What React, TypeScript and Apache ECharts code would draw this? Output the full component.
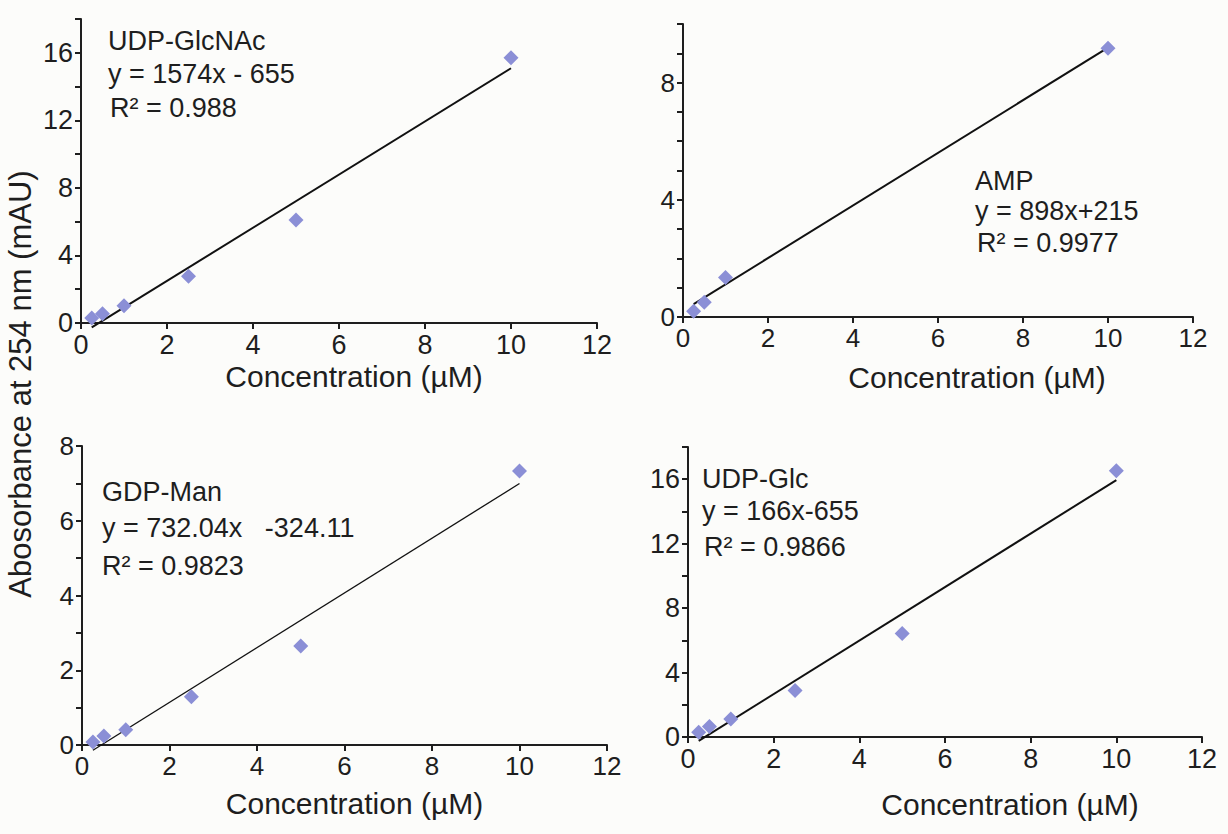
import React, { useEffect, useRef } from 'react';
import * as echarts from 'echarts';

// ---- data ----
const concentrations = [0.25, 0.5, 1, 2.5, 5, 10];
const ampConcentrations = [0.25, 0.5, 1, 10];
const udpGlcNAc = [0.29, 0.55, 1.02, 2.77, 6.1, 15.7];
const amp = [0.2, 0.5, 1.35, 9.17];
const gdpMan = [0.08, 0.24, 0.41, 1.29, 2.65, 7.33];
const udpGlc = [0.29, 0.65, 1.12, 2.89, 6.43, 16.52];

const compoundNames = ['UDP-GlcNAc', 'AMP', 'GDP-Man', 'UDP-Glc'];
const equations = ['y = 1574x - 655', 'y = 898x+215', 'y = 732.04x   -324.11', 'y = 166x-655'];
const rSquared = ['R\u00B2 = 0.988', 'R\u00B2 = 0.9977', 'R\u00B2 = 0.9823', 'R\u00B2 = 0.9866'];
// trend line coefficients (mAU per µM, mAU)
const slopes = [1.574, 0.898, 0.73204, 1.66];
const intercepts = [-0.655, 0.215, -0.32411, -0.655];

const xMax = 12;
const xInterval = 2;
const yMax = [18, 10, 8, 18];
const yInterval = [2, 1, 1, 2];
const yLabelEvery = [4, 4, 2, 4];

const xTitle = 'Concentration (\u00B5M)';
const yTitle = 'Abosorbance at 254 nm (mAU)';

const FONT = '"Liberation Sans", Arial, Helvetica, sans-serif';
const INK = '#1e1e1e';
const MARKER = '#8b8fd6';

export default function App() {
  const ref = useRef<HTMLDivElement>(null);

  useEffect(() => {
    if (!ref.current) return;
    const chart = echarts.init(ref.current, null, { renderer: 'svg' });

    const xs = [concentrations, ampConcentrations, concentrations, concentrations];
    const ys = [udpGlcNAc, amp, gdpMan, udpGlc];

    const grids = [
      { left: 81, right: 631, top: 19, bottom: 511 },
      { left: 683, right: 35, top: 24, bottom: 517 },
      { left: 82, right: 621, top: 446, bottom: 89 },
      { left: 688, right: 26, top: 447, bottom: 97 },
    ];
    const tickFont = [27, 26, 26, 27];
    const nameGap = [38, 45, 43, 52];
    const namePadLeft = [30, 78, 20, 130];
    const lineWidths = [2, 2, 1.3, 2];

    const axisLine = { lineStyle: { color: INK, width: 2 } };
    const axisTick = { show: true, inside: false, length: 6, lineStyle: { color: INK, width: 2 } };

    const xAxis = grids.map((_, i) => ({
      type: 'value',
      gridIndex: i,
      min: 0,
      max: xMax,
      interval: xInterval,
      axisLine,
      axisTick,
      splitLine: { show: false },
      axisLabel: { color: INK, fontSize: tickFont[i], fontFamily: FONT, margin: 8, showMaxLabel: true, showMinLabel: true },
      name: xTitle,
      nameLocation: 'middle',
      nameGap: nameGap[i],
      nameTextStyle: { color: INK, fontSize: 30, fontFamily: FONT, padding: [0, 0, 0, namePadLeft[i]] },
    }));

    const yAxis = grids.map((_, i) => ({
      type: 'value',
      gridIndex: i,
      min: 0,
      max: yMax[i],
      interval: yInterval[i],
      axisLine,
      axisTick,
      splitLine: { show: false },
      axisLabel: {
        color: INK,
        fontSize: tickFont[i],
        fontFamily: FONT,
        margin: 8,
        formatter: (v: number) => (v % yLabelEvery[i] === 0 ? String(v) : ''),
      },
    }));

    const series: any[] = [];
    grids.forEach((_, i) => {
      const x0 = xs[i][0];
      const x1 = xs[i][xs[i].length - 1];
      series.push({
        type: 'line',
        xAxisIndex: i,
        yAxisIndex: i,
        data: [
          [x0, slopes[i] * x0 + intercepts[i]],
          [x1, slopes[i] * x1 + intercepts[i]],
        ],
        showSymbol: false,
        symbol: 'none',
        clip: false,
        lineStyle: { color: '#111', width: lineWidths[i] },
        z: 2,
      });
      series.push({
        type: 'scatter',
        xAxisIndex: i,
        yAxisIndex: i,
        data: xs[i].map((x, k) => [x, ys[i][k]]),
        symbol: 'diamond',
        symbolSize: 15,
        itemStyle: { color: MARKER, opacity: 1 },
        z: 3,
      });
    });

    const annLeft = [108, 975, 102, 702];
    const annY = [
      [41, 74, 108],
      [181, 211, 243],
      [492, 528, 566],
      [479, 511, 547],
    ];
    const graphic: any[] = [];
    grids.forEach((_, i) => {
      [compoundNames[i], equations[i], rSquared[i]].forEach((t, k) => {
        graphic.push({
          type: 'text',
          x: annLeft[i] + (k === 2 && i !== 2 ? 2 : 0),
          y: annY[i][k],
          silent: true,
          style: { text: t, fill: INK, fontSize: 27, fontFamily: FONT, align: 'left', verticalAlign: 'middle' },
        });
      });
    });
    graphic.push({
      type: 'text',
      x: 20,
      y: 384,
      rotation: Math.PI / 2,
      silent: true,
      style: { text: yTitle, fill: INK, fontSize: 31, fontFamily: FONT, align: 'center', verticalAlign: 'middle' },
    });

    chart.setOption({
      animation: false,
      backgroundColor: '#fcfcfa',
      grid: grids.map((g) => ({ ...g, containLabel: false })),
      xAxis,
      yAxis,
      series,
      graphic,
    });

    return () => chart.dispose();
  }, []);

  return <div ref={ref} style={{ position: 'fixed', left: 0, top: 0, width: 1228, height: 834 }} />;
}
